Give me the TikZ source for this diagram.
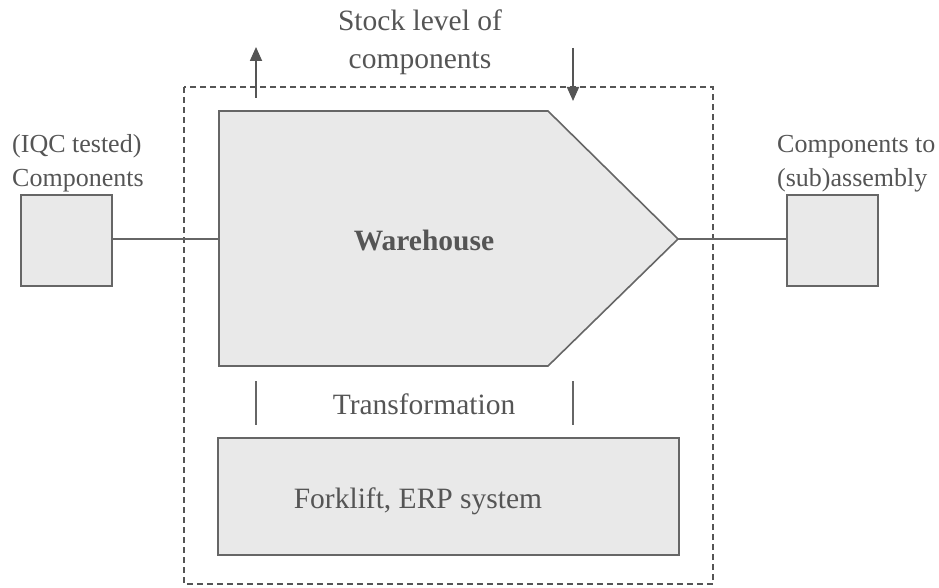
\documentclass[tikz,border=0pt]{standalone}
\usepackage{fontspec}
\setmainfont{Liberation Serif}
\usetikzlibrary{arrows.meta}
\definecolor{inkgray}{HTML}{555555}
\definecolor{edgegray}{HTML}{666666}
\definecolor{boxfill}{HTML}{E9E9E9}
\begin{document}
\begin{tikzpicture}[x=1pt,y=-1pt,
  every node/.style={inner sep=0pt, text=inkgray},
  bigtext/.style={font=\fontsize{29.5}{38}\selectfont},
  sidetext/.style={font=\fontsize{26}{34}\selectfont},
  shapebox/.style={draw=edgegray, fill=boxfill, line width=1.6pt},
  link/.style={draw=edgegray, line width=1.6pt},
  flowarrow/.style={draw=inkgray, line width=1.8pt, -{Triangle[width=12pt,length=14pt]}},
  boundary/.style={draw=inkgray, line width=1.3pt, dash pattern=on 6pt off 4pt}]
  \useasboundingbox (0,0) rectangle (939,588);

  % system boundary
  \draw[boundary] (184,87) rectangle (713,584);

  % warehouse process
  \draw[shapebox] (219,111) -- (548,111) -- (678,239) -- (548,366) -- (219,366) -- cycle;
  \coordinate (whin) at (219,239);
  \coordinate (whout) at (678,239);
  \node[bigtext, font=\fontsize{29.5}{38}\selectfont\bfseries, anchor=base] (wh) at (424,250) {Warehouse};

  % input and output boxes
  \node[shapebox, minimum width=91pt, minimum height=91pt, anchor=north west] (inbox) at (20,194) {};
  \node[shapebox, minimum width=91pt, minimum height=91pt, anchor=north west] (outbox) at (786,194) {};
  \draw[link] (inbox.east |- whin) -- (whin);
  \draw[link] (whout) -- (outbox.west |- whout);
  \node[sidetext, align=left, anchor=base west] (inlabel) at (12,186) {(IQC tested)\\Components};
  \node[sidetext, align=left, anchor=base west] (outlabel) at (777,186) {Components to\\(sub)assembly};

  % stock level control
  \node[bigtext, align=center, anchor=base] (stock) at (420,69) {Stock level of\\components};
  \coordinate (upfoot) at (256,98);
  \coordinate (uphead) at (256,47);
  \coordinate (downtail) at (573,48);
  \coordinate (downhead) at (573,101);
  \draw[flowarrow] (upfoot) -- (uphead);
  \draw[flowarrow] (downtail) -- (downhead);

  % transformation mechanism
  \coordinate (tl1) at (256,381);
  \coordinate (tl2) at (256,425);
  \coordinate (tr1) at (573,381);
  \coordinate (tr2) at (573,425);
  \draw[link] (tl1) -- (tl2);
  \draw[link] (tr1) -- (tr2);
  \node[bigtext, anchor=base] (trans) at (424,414) {Transformation};

  % resources
  \draw[shapebox] (218,438) rectangle (679,555);
  \node[bigtext, anchor=base] (res) at (418,508) {Forklift, ERP system};
\end{tikzpicture}
\end{document}
